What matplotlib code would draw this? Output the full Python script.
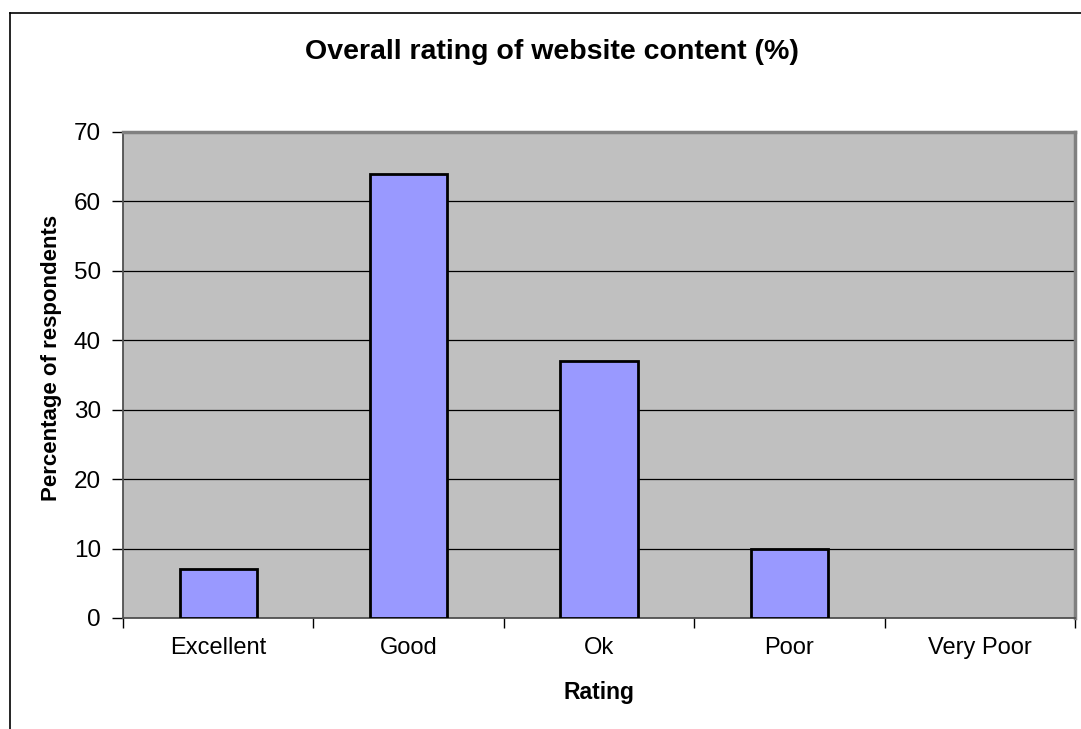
import matplotlib
matplotlib.use("Agg")
import matplotlib.pyplot as plt
from matplotlib.lines import Line2D

categories = ["Excellent", "Good", "Ok", "Poor", "Very Poor"]
values = [7, 64, 37, 10, 0]
yticks = [0, 10, 20, 30, 40, 50, 60, 70]

plt.rcParams['font.family'] = ['Liberation Sans', 'DejaVu Sans']

W, H = 1081, 729
fig = plt.figure(figsize=(W / 100, H / 100), dpi=100)
fig.patch.set_facecolor('white')

L, R, T, B = 123, 1075, 132, 618
ax = fig.add_axes([L / W, 1 - B / H, (R - L) / W, (B - T) / H])
ax.set_facecolor('#C0C0C0')

x = list(range(len(categories)))
edge_widths = [2 if v > 0 else 0 for v in values]
ax.bar(x, values, width=0.405, color='#9999FF', edgecolor='black',
       linewidth=edge_widths, zorder=3)

ax.set_xlim(-0.5, len(categories) - 0.5)
ax.set_ylim(0, 70)
ax.set_yticks(yticks)
ax.set_yticklabels([str(v) for v in yticks], fontsize=17.5)
ax.yaxis.grid(True, color='black', linewidth=0.9, zorder=1)
ax.set_axisbelow(True)

ax.set_xticks([i - 0.5 for i in range(len(categories) + 1)])
ax.set_xticklabels([])
ax.set_xticks(x, minor=True)
ax.set_xticklabels(categories, minor=True, fontsize=17)
ax.tick_params(axis='x', which='minor', length=0, pad=14)
ax.tick_params(axis='x', which='major', length=7, width=1, color='black', direction='out')
ax.tick_params(axis='y', length=8, width=1, color='black', direction='out', pad=8)

for s in ['top', 'right']:
    ax.spines[s].set_color('#808080')
    ax.spines[s].set_linewidth(2.5)
for s in ['left', 'bottom']:
    ax.spines[s].set_color('#505050')
    ax.spines[s].set_linewidth(1.3)

fig.text(552 / W, 1 - 52 / H, "Overall rating of website content (%)",
         ha='center', va='center', fontsize=20.5, fontweight='bold')
fig.text(52 / W, 1 - 358 / H, "Percentage of respondents", rotation=90,
         ha='center', va='center', fontsize=16, fontweight='bold')
fig.text(599 / W, 1 - 693 / H, "Rating", ha='center', va='center',
         fontsize=16.5, fontweight='bold')

# outer chart border (partially outside the image)
fig.add_artist(Line2D([10 / W, 10 / W], [1 - 13 / H, 0], transform=fig.transFigure,
                      color='black', linewidth=1.2))
fig.add_artist(Line2D([10 / W, 1], [1 - 13 / H, 1 - 13 / H], transform=fig.transFigure,
                      color='black', linewidth=1.2))

fig.savefig("out.png", dpi=100, facecolor='white')
